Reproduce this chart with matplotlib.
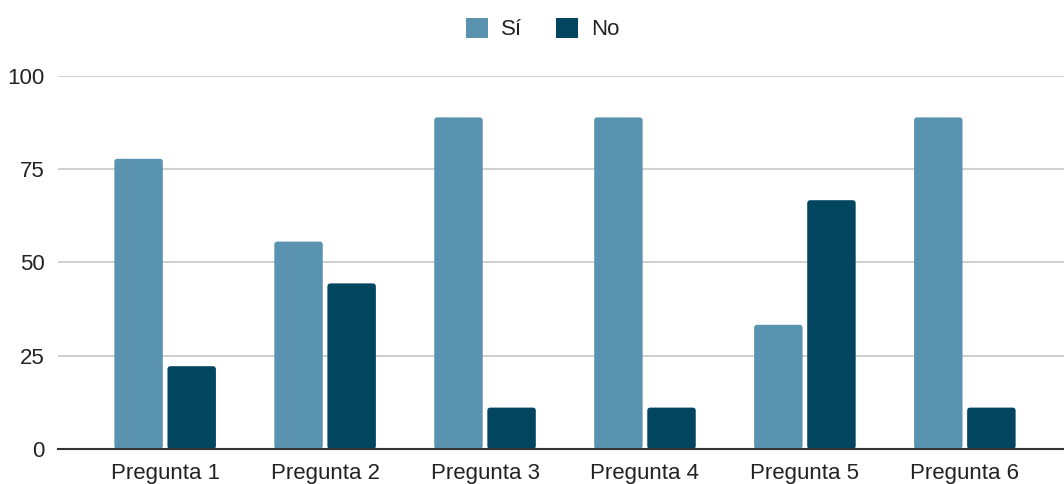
import matplotlib
matplotlib.use("Agg")
import matplotlib.pyplot as plt
import numpy as np
from matplotlib.patches import FancyBboxPatch

plt.rcParams['font.family'] = ['Liberation Sans', 'DejaVu Sans']

categories = ["Pregunta 1", "Pregunta 2", "Pregunta 3", "Pregunta 4", "Pregunta 5", "Pregunta 6"]
si_values = [77.8, 55.6, 88.9, 88.9, 33.3, 88.9]
no_values = [22.2, 44.4, 11.1, 11.1, 66.7, 11.1]
series_labels = ["Sí", "No"]
y_ticks = [0, 25, 50, 75, 100]

color_si = "#5A93B0"
color_no = "#01455F"
text_color = "#222222"

fig = plt.figure(figsize=(10.64, 4.84), dpi=100)
ax = fig.add_axes([0.0545, 0.0723, 0.9455, 0.7707])

x = np.arange(len(categories))
width = 0.303
offset = 0.166
bars_si = ax.bar(x - offset, si_values, width, color=color_si, label=series_labels[0], zorder=3)
bars_no = ax.bar(x + offset, no_values, width, color=color_no, label=series_labels[1], zorder=3)

ax.set_xlim(-0.67, 5.62)
ax.set_ylim(0, 100)

# Replace each bar with a softly rounded version of the same extent
for bars in (bars_si, bars_no):
    for b in bars:
        b.set_visible(False)
        bx, by = b.get_x(), b.get_y()
        bw, bh = b.get_width(), b.get_height()
        patch = FancyBboxPatch((bx, by), bw, bh,
                               boxstyle="round,pad=0,rounding_size=0.02",
                               mutation_aspect=100 / 6.29 * (1006 / 373),
                               facecolor=b.get_facecolor(), edgecolor="none", zorder=3)
        ax.add_patch(patch)

ax.set_yticks(y_ticks)
ax.set_yticklabels([str(t) for t in y_ticks], fontsize=16, color=text_color)
ax.set_xticks(x)
ax.set_xticklabels(categories, fontsize=16, color=text_color)

ax.grid(axis="y", color="#cccccc", linewidth=1.3, zorder=0)
ax.set_axisbelow(True)
for side in ["top", "right", "left"]:
    ax.spines[side].set_visible(False)
ax.spines["bottom"].set_color("#333333")
ax.spines["bottom"].set_linewidth(1.5)
ax.spines["bottom"].set_zorder(4)
ax.tick_params(axis="both", length=0)
ax.tick_params(axis="y", pad=9.5)
ax.tick_params(axis="x", pad=10)

fig.legend(handles=[bars_si, bars_no], labels=series_labels,
           loc="upper center", bbox_to_anchor=(0.51, 1.0), ncol=2, frameon=False,
           fontsize=16, handlelength=1.0, handleheight=1.0, columnspacing=1.5,
           handletextpad=0.6, labelcolor=text_color, borderaxespad=0.4)
leg = fig.legends[0]
for h in leg.legend_handles:
    h.set_visible(True)

fig.savefig("out.png", dpi=100, facecolor="white")
